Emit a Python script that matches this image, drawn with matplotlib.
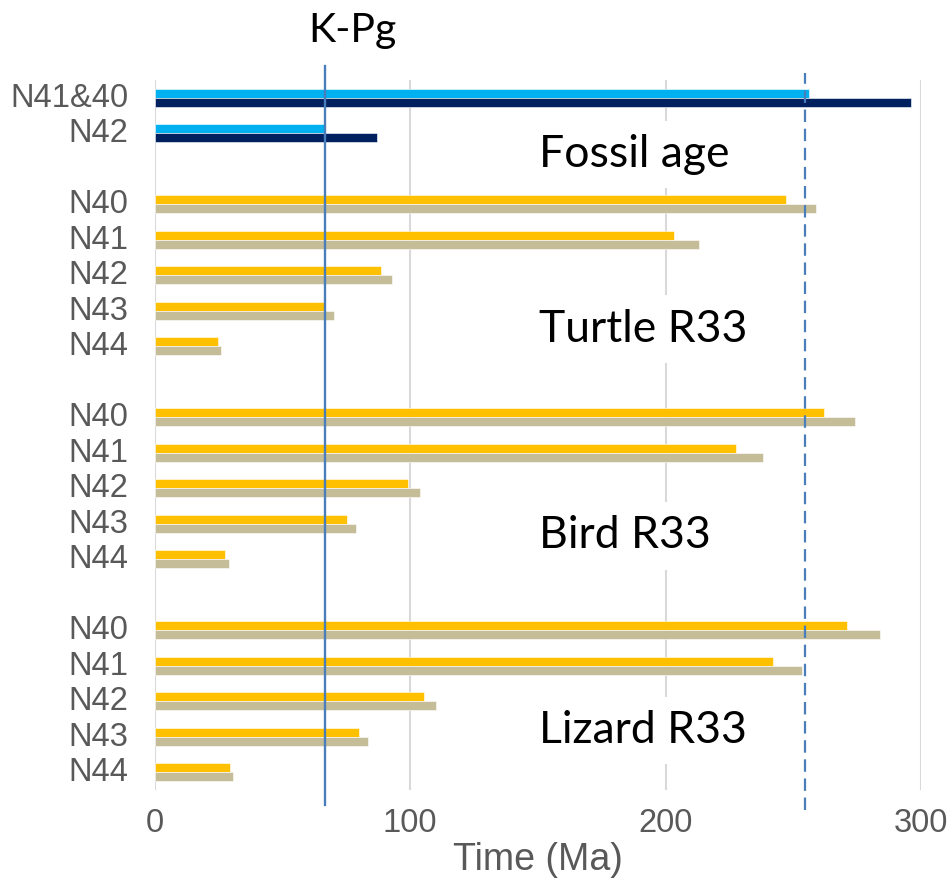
import matplotlib
matplotlib.use('Agg')
import matplotlib.pyplot as plt
import matplotlib.transforms as mtransforms

# fossil calibrations (light blue = min, navy = max)
fossil_labels = ['N41&40', 'N42']
fossil_min = [256.2, 66.5]
fossil_max = [296.2, 87.0]

nodes = ['N40', 'N41', 'N42', 'N43', 'N44']
turtle_a = [247.3, 203.4, 88.6, 66.3, 24.9]
turtle_b = [258.8, 212.9, 92.8, 70.2, 26.1]
bird_a = [261.9, 227.4, 99.3, 75.3, 27.7]
bird_b = [274.3, 238.1, 103.8, 78.8, 29.2]
lizard_a = [271.0, 242.1, 105.5, 80.0, 29.6]
lizard_b = [283.8, 253.4, 110.3, 83.5, 30.8]

group_names = ['Fossil age', 'Turtle R33', 'Bird R33', 'Lizard R33']
kpg = 66.5
ptr = 254.5
xticks = [0, 100, 200, 300]

LIGHT = '#00b0f0'
NAVY = '#002060'
ORANGE = '#ffc000'
TAN = '#c4bd97'
LINE = '#4a7ebb'
GRAY = '#595959'

fig = plt.figure(figsize=(9.52, 8.85), dpi=100)
ax = fig.add_axes([154.7 / 952, 1 - 790 / 885, (921 - 154.7) / 952, 710 / 885])

# slot positions: groups separated by one empty row
groups = [(fossil_labels, fossil_min, fossil_max, LIGHT, NAVY),
          (nodes, turtle_a, turtle_b, ORANGE, TAN),
          (nodes, bird_a, bird_b, ORANGE, TAN),
          (nodes, lizard_a, lizard_b, ORANGE, TAN)]
h = 0.26
pos = 0
ypos, ylabels = [], []
for labels, a, b, ca, cb in groups:
    ys = list(range(pos, pos + len(labels)))
    ax.barh([y - h / 2 for y in ys], a, height=h, color=ca, edgecolor='white',
            linewidth=0.4, zorder=3)
    ax.barh([y + h / 2 for y in ys], b, height=h, color=cb, edgecolor='white',
            linewidth=0.4, zorder=3)
    ypos += ys
    ylabels += labels
    pos += len(labels) + 1

ax.set_ylim(pos - 1.5, -0.5)
ax.set_xlim(0, 300)
ax.set_yticks(ypos)
ax.set_yticklabels(ylabels)
ax.set_xticks(xticks)
ax.tick_params(length=0, labelsize=23.5, labelcolor=GRAY)
ax.tick_params(axis='y', pad=19)
ax.tick_params(axis='x', pad=13)
for lab in ax.get_xticklabels() + ax.get_yticklabels():
    lab.set_fontfamily('Liberation Sans')
# nudge the row labels up a touch
shift = mtransforms.ScaledTranslation(0, 3 / 100, fig.dpi_scale_trans)
for lab in ax.get_yticklabels():
    lab.set_transform(lab.get_transform() + shift)
for s in ax.spines.values():
    s.set_visible(False)
ax.grid(axis='x', color='#d9d9d9', linewidth=1.5, zorder=0)
ax.set_axisbelow(True)
ax.set_xlabel('Time (Ma)', fontsize=27, color=GRAY, family='Liberation Sans',
              labelpad=2)

ax.axvline(kpg, ymin=-0.021, ymax=1.02, color=LINE, lw=1.7, zorder=5, clip_on=False)
ax.axvline(ptr, ymin=-0.028, ymax=1.01, color=LINE, lw=1.6, zorder=5,
           dashes=(5.6, 3.0), clip_on=False)
ax.text(60.2, -1.58, 'K-Pg', fontsize=29.5, family='Lato', va='baseline', ha='left')

text_y = [1.95, 6.87, 12.69, 18.18]
for name, ty in zip(group_names, text_y):
    ax.text(150.5, ty, name, fontsize=32, family='Lato', va='baseline', ha='left',
            zorder=2, bbox=dict(boxstyle='square,pad=0.3', fc='white', ec='none'))

fig.savefig('out.png', dpi=100)
